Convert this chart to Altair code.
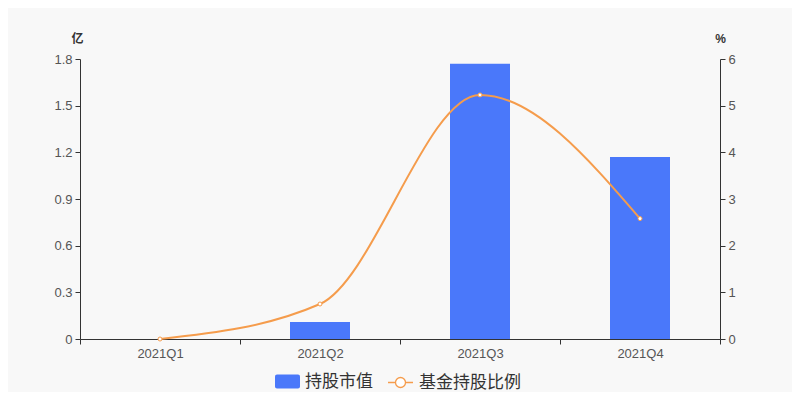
import altair as alt
import pandas as pd

quarters = ["2021Q1", "2021Q2", "2021Q3", "2021Q4"]
market_value = [0.0, 0.11, 1.77, 1.17]   # 亿
hold_ratio = [0.0, 0.75, 5.23, 2.58]     # %
left_ticks = [0, 0.3, 0.6, 0.9, 1.2, 1.5, 1.8]
right_ticks = [0, 1, 2, 3, 4, 5, 6]

BLUE = "#4a78fa"
ORANGE = "#f59c4c"
FONT = "Liberation Sans, Noto Sans CJK SC, sans-serif"

df = pd.DataFrame({
    "q": quarters,
    "v": market_value,
    "r": hold_ratio,
    "s1": "持股市值",
    "s2": "基金持股比例",
})

x = alt.X(
    "q:N", sort=quarters,
    scale=alt.Scale(paddingInner=0, paddingOuter=0),
    axis=alt.Axis(title=None, labelAngle=0, tickBand="extent", domainColor="#333",
                  tickColor="#333", labelColor="#555", labelFontSize=13, tickSize=5,
                  labelPadding=3, grid=False),
)

base = alt.Chart(df)

bars = base.mark_bar(size=60).encode(
    x=x,
    y=alt.Y("v:Q", scale=alt.Scale(domain=[0, 1.8]),
            axis=alt.Axis(values=left_ticks, format="~g", title="亿", titleAngle=0,
                          titleX=-3, titleY=-21, titleAlign="center", titleBaseline="middle",
                          titleFontSize=12, titleFontWeight="bold", titleColor="#333",
                          domainColor="#333", tickColor="#333", labelColor="#555",
                          labelFontSize=13, tickSize=5, labelPadding=3, grid=False)),
    fill=alt.Fill("s1:N", scale=alt.Scale(range=[BLUE]),
                  legend=alt.Legend(title=None, orient="none", legendX=195, legendY=310,
                                    symbolType="M-0.84,-0.56 L0.84,-0.56 A0.16,0.16 0 0 1 1,-0.4 L1,0.4 A0.16,0.16 0 0 1 0.84,0.56 L-0.84,0.56 A0.16,0.16 0 0 1 -1,0.4 L-1,-0.4 A0.16,0.16 0 0 1 -0.84,-0.56 Z",
                                    symbolSize=625, symbolStrokeWidth=0, labelFontSize=17,
                                    labelColor="#333", labelFont="Noto Sans CJK SC",
                                    labelOffset=5, padding=0)),
)

yr = alt.Y("r:Q", scale=alt.Scale(domain=[0, 6]),
           axis=alt.Axis(orient="right", values=right_ticks, title="%", titleAngle=0,
                         titleX=0, titleY=-21, titleAlign="center", titleBaseline="middle",
                         titleFontSize=12, titleFontWeight="bold", titleColor="#333",
                         domainColor="#333", tickColor="#333", labelColor="#555",
                         labelFontSize=13, tickSize=5, labelPadding=3, grid=False))

line = base.mark_line(interpolate="monotone", strokeWidth=2).encode(
    x=x, y=yr,
    stroke=alt.Stroke("s2:N", scale=alt.Scale(range=[ORANGE]),
                      legend=alt.Legend(title=None, orient="none", legendX=307, legendY=310,
                                        symbolType="M-1,0 L-0.4,0 M0.4,0 L1,0 M-0.4,0 A0.4,0.4 0 1 1 0.4,0 A0.4,0.4 0 1 1 -0.4,0 Z",
                                        symbolSize=625, symbolStrokeWidth=1.3,
                                        symbolFillColor="#ffffff", labelFontSize=17,
                                        labelColor="#333", labelFont="Noto Sans CJK SC",
                                        labelOffset=5, padding=0)),
)

points = base.mark_point(shape="circle", filled=True, fill="#ffffff", stroke=ORANGE,
                         strokeWidth=1, size=16, opacity=1).encode(x=x, y=yr)

chart = alt.layer(bars, alt.layer(line, points)).resolve_scale(
    y="independent", fill="independent", stroke="independent"
).properties(
    width=640, height=280,
    autosize=alt.AutoSizeParams(type="none"),
    padding={"left": 72, "top": 51, "right": 72, "bottom": 53},
    background="#f8f8f8",
).configure(font=FONT).configure_view(stroke=None)

chart.save("out.html", embed_options={"renderer": "svg", "actions": False})
